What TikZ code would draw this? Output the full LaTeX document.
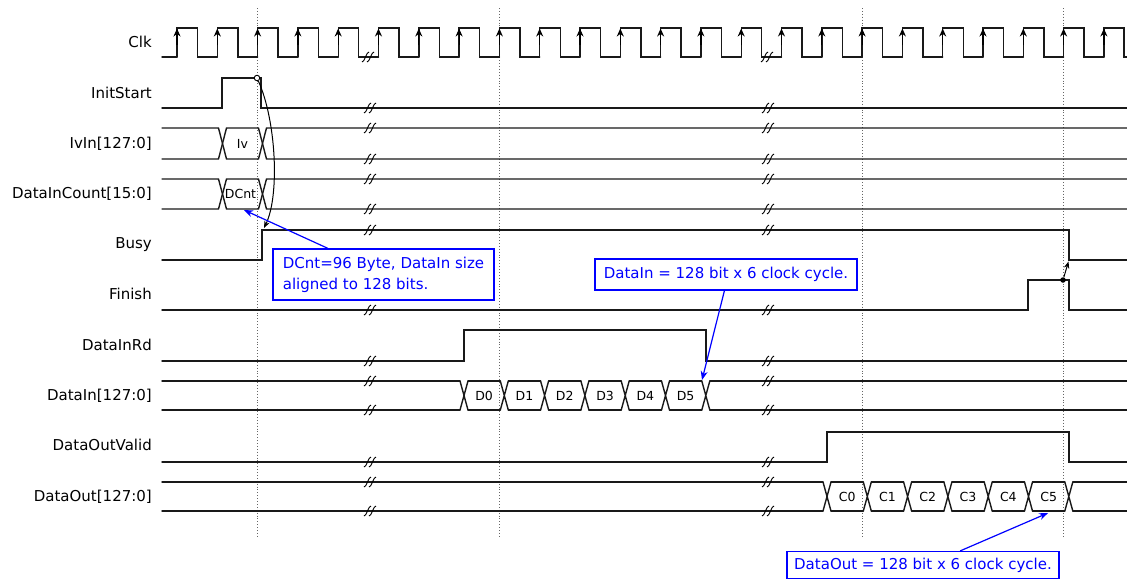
\documentclass[tikz,border=0pt]{standalone}
\usepackage{fontspec}
\setmainfont{DejaVu Sans}
\usetikzlibrary{arrows.meta,calc}
\tikzset{
  wave/.style={line width=1.4pt, black!90, line cap=round, line join=miter},
  brk/.style={line width=0.9pt, black},
  guide/.style={dotted, line width=0.9pt, black!60},
  lbl/.style={anchor=east, inner sep=0pt, font=\fontsize{15}{18}\selectfont, text height=11pt, text depth=0pt},
  dlbl/.style={inner sep=0pt, font=\fontsize{12.5}{14}\selectfont, text height=9pt, text depth=0pt},
  callout/.style={draw=blue, line width=1.2pt, fill=white, text=blue, font=\fontsize{15}{21}\selectfont, align=left, inner sep=0pt},
  callarrow/.style={blue, line width=1.2pt, -{Stealth[length=9pt,width=7pt]}},
  causal/.style={black, line width=1pt, -{Stealth[length=7pt,width=5.5pt]}},
  clkarrow/.style={black, line width=1.2pt, -{Stealth[length=8pt,width=7pt]}},
  brkmark/.pic={
    \draw[brk] (-6,5) .. controls (-3.5,5.5) and (-1.5,-5.5) .. (1,-5);
    \draw[brk] (-1,5) .. controls (1.5,5.5) and (3.5,-5.5) .. (6,-5);
  }
}
\begin{document}
\begin{tikzpicture}[x=1pt,y=-1pt]
\useasboundingbox (0,0) rectangle (1127,579);

% guide lines
\foreach \gx in {257,499,862,1063} \draw[guide] (\gx,8) -- (\gx,537);

% labels
\node[lbl] (lClk)  at (152,42)  {Clk};
\node[lbl] (lInit) at (152,93)  {InitStart};
\node[lbl] (lIv)   at (152,143) {IvIn[127:0]};
\node[lbl] (lCnt)  at (152,193) {DataInCount[15:0]};
\node[lbl] (lBusy) at (152,243) {Busy};
\node[lbl] (lFin)  at (152,294) {Finish};
\node[lbl] (lRd)   at (152,345) {DataInRd};
\node[lbl] (lDin)  at (152,395) {DataIn[127:0]};
\node[lbl] (lVal)  at (152,445) {DataOutValid};
\node[lbl] (lDout) at (152,496) {DataOut[127:0]};

% clock
\draw[wave] (162,57) -- (177,57);
\foreach \k in {0,...,22} {
  \pgfmathsetmacro\r{177+40.3*\k}
  \draw[wave] (\r,57) -- (\r,28) -- (\r+20.5,28) -- (\r+20.5,57) -- (\r+40.3,57);
  \draw[clkarrow] (\r,45) -- (\r,28.5);
}
\draw[wave] (1103.9,57) -- (1103.9,28) -- (1124,28) -- (1124,57) -- (1127,57);
\draw[clkarrow] (1103.9,45) -- (1103.9,28.5);
\pic at (368,57) {brkmark};
\pic at (767,57) {brkmark};

% InitStart
\draw[wave] (162,108) -- (222,108) -- (222,78) -- (261,78) -- (261,108) -- (1127,108);

% IvIn
\draw[wave] (162,128) -- (218.5,128) -- (226.5,159) -- (258.5,159) -- (266.5,128) -- (1127,128);
\draw[wave] (162,159) -- (218.5,159) -- (226.5,128) -- (258.5,128) -- (266.5,159) -- (1127,159);
\node[dlbl] (iv) at (242.5,143.5) {Iv};

% DataInCount
\draw[wave] (162,179) -- (218.5,179) -- (226.5,209) -- (258.5,209) -- (266.5,179) -- (1127,179);
\draw[wave] (162,209) -- (218.5,209) -- (226.5,179) -- (258.5,179) -- (266.5,209) -- (1127,209);
\node[dlbl] (dcnt) at (240.5,194) {DCnt};

% Busy
\draw[wave] (162,260) -- (262,260) -- (262,230) -- (1069,230) -- (1069,260) -- (1127,260);
% Finish
\draw[wave] (162,310) -- (1028,310) -- (1028,280) -- (1069,280) -- (1069,310) -- (1127,310);
% DataInRd
\draw[wave] (162,361) -- (464,361) -- (464,330) -- (706,330) -- (706,361) -- (1127,361);

% DataIn bus
\draw[wave] (162,381) -- (460,381) (162,410) -- (460,410);
\foreach \k in {0,...,6} {
  \pgfmathsetmacro\c{464+40.3*\k}
  \draw[wave] (\c-4,381) -- (\c+4,410) (\c-4,410) -- (\c+4,381);
}
\foreach \k in {0,...,5} {
  \pgfmathsetmacro\c{464+40.3*\k}
  \draw[wave] (\c+4,381) -- (\c+36.3,381) (\c+4,410) -- (\c+36.3,410);
  \node[dlbl] (d\k) at (\c+20.15,395.5) {D\k};
}
\draw[wave] (709.8,381) -- (1127,381) (709.8,410) -- (1127,410);

% DataOutValid
\draw[wave] (162,462) -- (827,462) -- (827,432) -- (1069,432) -- (1069,462) -- (1127,462);

% DataOut bus
\draw[wave] (162,482) -- (823,482) (162,511) -- (823,511);
\foreach \k in {0,...,6} {
  \pgfmathsetmacro\c{827+40.3*\k}
  \draw[wave] (\c-4,482) -- (\c+4,511) (\c-4,511) -- (\c+4,482);
}
\foreach \k in {0,...,5} {
  \pgfmathsetmacro\c{827+40.3*\k}
  \draw[wave] (\c+4,482) -- (\c+36.3,482) (\c+4,511) -- (\c+36.3,511);
  \node[dlbl] (o\k) at (\c+20.15,496.5) {C\k};
}
\draw[wave] (1072.8,482) -- (1127,482) (1072.8,511) -- (1127,511);

% break marks
\foreach \by in {108,128,159,179,209,230,310,361,381,410,462,482,511} {
  \pic at (370,\by) {brkmark};
  \pic at (768,\by) {brkmark};
}

% causality arrows
\node[circle, draw=black, fill=white, line width=0.9pt, minimum size=5.5pt, inner sep=0pt] (ic) at (257,78) {};
\coordinate (bz) at (264,228);
\draw[causal] (ic) .. controls (276,120) and (280,195) .. (bz);
\node[circle, fill=black, minimum size=5.5pt, inner sep=0pt] (fc) at (1063,280) {};
\coordinate (bf) at (1068.5,261.5);
\draw[causal] (fc) -- (bf);

% callouts
\node[callout, minimum width=221pt, minimum height=51pt] (c1) at (383.5,274.5)
  {DCnt=96 Byte, DataIn size\\aligned to 128 bits.};
\node[callout, minimum width=262pt, minimum height=31pt] (c2) at (726,274.5)
  {DataIn = 128 bit x 6 clock cycle.};
\node[callout, minimum width=272pt, minimum height=27pt] (c3) at (923,565)
  {DataOut = 128 bit x 6 clock cycle.};

\coordinate (t1) at (244,210);
\coordinate (t2) at (702,380);
\coordinate (t3) at (1048,513);
\draw[callarrow] ($(c1.north west)!0.25!(c1.north east)$) -- (t1);
\draw[callarrow] ($(c2.south west)!0.494!(c2.south east)$) -- (t2);
\draw[callarrow] ($(c3.north west)!0.636!(c3.north east)$) -- (t3);
\end{tikzpicture}
\end{document}
